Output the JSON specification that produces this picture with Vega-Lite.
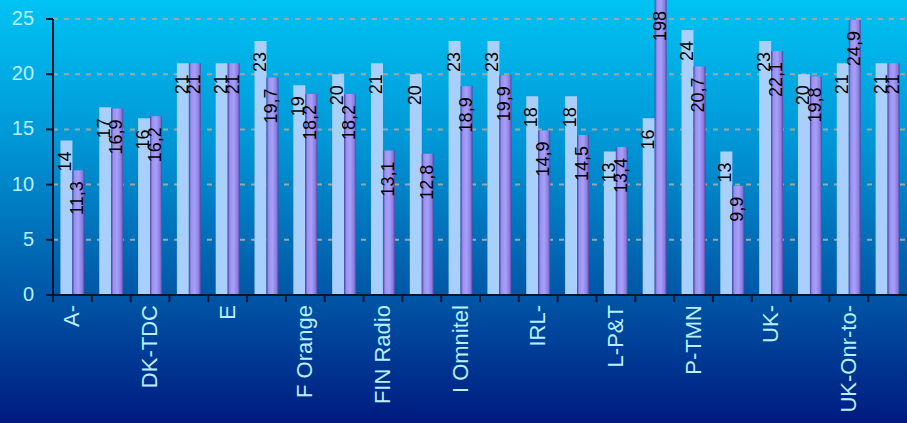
{
  "$schema": "https://vega.github.io/schema/vega-lite/v6.json",
  "width": 907,
  "height": 423,
  "padding": 0,
  "autosize": {"type": "none"},
  "background": "#001a80",
  "config": {
    "view": {
      "stroke": null,
      "fill": {
        "gradient": "linear", "x1": 0, "y1": 0, "x2": 0, "y2": 1,
        "stops": [
          {"offset": 0, "color": "#00c3f3"},
          {"offset": 0.35, "color": "#0094d4"},
          {"offset": 0.7, "color": "#0056a6"},
          {"offset": 1, "color": "#001a80"}
        ]
      }
    },
    "locale": {"number": {"decimal": ",", "thousands": ".", "grouping": [3], "currency": ["", " €"]}}
  },
  "datasets": {
    "bars": [
      {"cat": "A-", "series": "Serie 1", "value": 14}, {"cat": "A-", "series": "Serie 2", "value": 11.3},
      {"cat": "_2", "series": "Serie 1", "value": 17}, {"cat": "_2", "series": "Serie 2", "value": 16.9},
      {"cat": "DK-TDC", "series": "Serie 1", "value": 16}, {"cat": "DK-TDC", "series": "Serie 2", "value": 16.2},
      {"cat": "_4", "series": "Serie 1", "value": 21}, {"cat": "_4", "series": "Serie 2", "value": 21},
      {"cat": "E", "series": "Serie 1", "value": 21}, {"cat": "E", "series": "Serie 2", "value": 21},
      {"cat": "_6", "series": "Serie 1", "value": 23}, {"cat": "_6", "series": "Serie 2", "value": 19.7},
      {"cat": "F Orange", "series": "Serie 1", "value": 19}, {"cat": "F Orange", "series": "Serie 2", "value": 18.2},
      {"cat": "_8", "series": "Serie 1", "value": 20}, {"cat": "_8", "series": "Serie 2", "value": 18.2},
      {"cat": "FIN Radio", "series": "Serie 1", "value": 21}, {"cat": "FIN Radio", "series": "Serie 2", "value": 13.1},
      {"cat": "_10", "series": "Serie 1", "value": 20}, {"cat": "_10", "series": "Serie 2", "value": 12.8},
      {"cat": "I Omnitel", "series": "Serie 1", "value": 23}, {"cat": "I Omnitel", "series": "Serie 2", "value": 18.9},
      {"cat": "_12", "series": "Serie 1", "value": 23}, {"cat": "_12", "series": "Serie 2", "value": 19.9},
      {"cat": "IRL-", "series": "Serie 1", "value": 18}, {"cat": "IRL-", "series": "Serie 2", "value": 14.9},
      {"cat": "_14", "series": "Serie 1", "value": 18}, {"cat": "_14", "series": "Serie 2", "value": 14.5},
      {"cat": "L-P&T", "series": "Serie 1", "value": 13}, {"cat": "L-P&T", "series": "Serie 2", "value": 13.4},
      {"cat": "_16", "series": "Serie 1", "value": 16}, {"cat": "_16", "series": "Serie 2", "value": 198},
      {"cat": "P-TMN", "series": "Serie 1", "value": 24}, {"cat": "P-TMN", "series": "Serie 2", "value": 20.7},
      {"cat": "_18", "series": "Serie 1", "value": 13}, {"cat": "_18", "series": "Serie 2", "value": 9.9},
      {"cat": "UK-", "series": "Serie 1", "value": 23}, {"cat": "UK-", "series": "Serie 2", "value": 22.1},
      {"cat": "_20", "series": "Serie 1", "value": 20}, {"cat": "_20", "series": "Serie 2", "value": 19.8},
      {"cat": "UK-Onr-to-", "series": "Serie 1", "value": 21}, {"cat": "UK-Onr-to-", "series": "Serie 2", "value": 24.9},
      {"cat": "_22", "series": "Serie 1", "value": 21}, {"cat": "_22", "series": "Serie 2", "value": 21}
    ],
    "grid": [{"v": 5}, {"v": 10}, {"v": 15}, {"v": 20}, {"v": 25}],
    "yticks": [{"v": 0}, {"v": 5}, {"v": 10}, {"v": 15}, {"v": 20}, {"v": 25}]
  },
  "layer": [
    {
      "data": {"name": "grid"},
      "mark": {"type": "rule", "stroke": "#9ea6a8", "strokeWidth": 2, "strokeDash": [5, 6]},
      "encoding": {
        "y": {"field": "v", "type": "quantitative", "axis": null,
              "scale": {"domain": [-11.59, 26.72], "nice": false, "zero": false, "clamp": true}},
        "x": {"datum": "A-", "type": "nominal", "bandPosition": 0, "axis": null,
              "scale": {"domain": ["A-","_2","DK-TDC","_4","E","_6","F Orange","_8","FIN Radio","_10","I Omnitel","_12","IRL-","_14","L-P&T","_16","P-TMN","_18","UK-","_20","UK-Onr-to-","_22"], "paddingInner": 0, "paddingOuter": 0.6827, "align": 1}},
        "x2": {"datum": "_22", "bandPosition": 1}
      }
    },
    {
      "data": {"name": "bars"},
      "transform": [{"filter": "datum.series === 'Serie 1'"}],
      "mark": {"type": "bar", "fill": "#a9d0fd"},
      "encoding": {
        "x": {"field": "cat", "type": "nominal", "sort": null, "axis": null},
        "xOffset": {"field": "series", "type": "nominal", "scale": {"domain": ["Serie 1", "Serie 2"], "paddingInner": 0, "paddingOuter": 0.62}},
        "y": {"field": "value", "type": "quantitative", "axis": null,
              "scale": {"domain": [-11.59, 26.72], "nice": false, "zero": false, "clamp": true}}
      }
    },
    {
      "data": {"name": "bars"},
      "transform": [{"filter": "datum.series === 'Serie 2'"}],
      "mark": {"type": "bar", "fill": {
        "gradient": "linear", "x1": 0, "y1": 0, "x2": 1, "y2": 0,
        "stops": [
          {"offset": 0, "color": "#4f3f9c"},
          {"offset": 0.18, "color": "#9a90ee"},
          {"offset": 0.5, "color": "#a7a0fa"},
          {"offset": 0.82, "color": "#8a7ee0"},
          {"offset": 1, "color": "#54449e"}
        ]}},
      "encoding": {
        "x": {"field": "cat", "type": "nominal", "sort": null, "axis": null},
        "xOffset": {"field": "series", "type": "nominal", "scale": {"domain": ["Serie 1", "Serie 2"], "paddingInner": 0, "paddingOuter": 0.62}},
        "y": {"field": "value", "type": "quantitative", "axis": null,
              "scale": {"domain": [-11.59, 26.72], "nice": false, "zero": false, "clamp": true}}
      }
    },
    {
      "data": {"name": "bars"},
      "mark": {"type": "text", "angle": 270, "align": "right", "baseline": "middle", "dx": -11,
               "font": "Liberation Sans", "fontSize": 18, "fill": "#000000"},
      "encoding": {
        "x": {"field": "cat", "type": "nominal", "sort": null, "axis": null},
        "xOffset": {"field": "series", "type": "nominal", "scale": {"domain": ["Serie 1", "Serie 2"], "paddingInner": 0, "paddingOuter": 0.62}},
        "y": {"field": "value", "type": "quantitative", "axis": null,
              "scale": {"domain": [-11.59, 26.72], "nice": false, "zero": false, "clamp": true}},
        "text": {"field": "value", "type": "quantitative", "format": ".3~g"}
      }
    },
    {
      "data": {"name": "yticks"},
      "mark": {"type": "rule", "stroke": "#0a1530", "strokeWidth": 2, "x2Offset": -7},
      "encoding": {
        "x": {"datum": "A-", "type": "nominal", "bandPosition": 0, "axis": null},
        "x2": {"datum": "A-", "bandPosition": 0},
        "y": {"field": "v", "type": "quantitative", "axis": null}
      }
    },
    {
      "data": {"name": "yticks"},
      "mark": {"type": "text", "align": "right", "baseline": "middle", "xOffset": -19,
               "font": "Liberation Sans", "fontSize": 20, "fill": "#b8f0ff"},
      "encoding": {
        "x": {"datum": "A-", "type": "nominal", "bandPosition": 0, "axis": null},
        "y": {"field": "v", "type": "quantitative", "axis": null},
        "text": {"field": "v", "type": "quantitative"}
      }
    },
    {
      "data": {"name": "bars"},
      "transform": [{"filter": "datum.series === 'Serie 1'"}],
      "mark": {"type": "rule", "stroke": "#0a1530", "strokeWidth": 2, "y2Offset": 7},
      "encoding": {
        "x": {"field": "cat", "type": "nominal", "bandPosition": 0, "axis": null},
        "y": {"datum": 0, "type": "quantitative", "axis": null},
        "y2": {"datum": 0}
      }
    },
    {
      "data": {"name": "bars"},
      "transform": [{"filter": "datum.series === 'Serie 1' && indexof(datum.cat, '_') != 0"}],
      "mark": {"type": "text", "angle": 270, "align": "right", "baseline": "middle", "dx": -10,
               "font": "Liberation Sans", "fontSize": 22, "fill": "#b8f0ff"},
      "encoding": {
        "x": {"field": "cat", "type": "nominal", "axis": null},
        "y": {"datum": 0, "type": "quantitative", "axis": null},
        "text": {"field": "cat", "type": "nominal"}
      }
    },
    {
      "data": {"values": [{}]},
      "mark": {"type": "rule", "stroke": "#0a1530", "strokeWidth": 2, "y2Offset": 5},
      "encoding": {
        "x": {"datum": "A-", "type": "nominal", "bandPosition": 0, "axis": null},
        "y": {"datum": 25, "type": "quantitative", "axis": null},
        "y2": {"datum": 0}
      }
    },
    {
      "data": {"values": [{}]},
      "mark": {"type": "rule", "stroke": "#0a1530", "strokeWidth": 2, "xOffset": -6},
      "encoding": {
        "x": {"datum": "A-", "type": "nominal", "bandPosition": 0, "axis": null},
        "x2": {"datum": "_22", "bandPosition": 1},
        "y": {"datum": 0, "type": "quantitative", "axis": null}
      }
    }
  ]
}
